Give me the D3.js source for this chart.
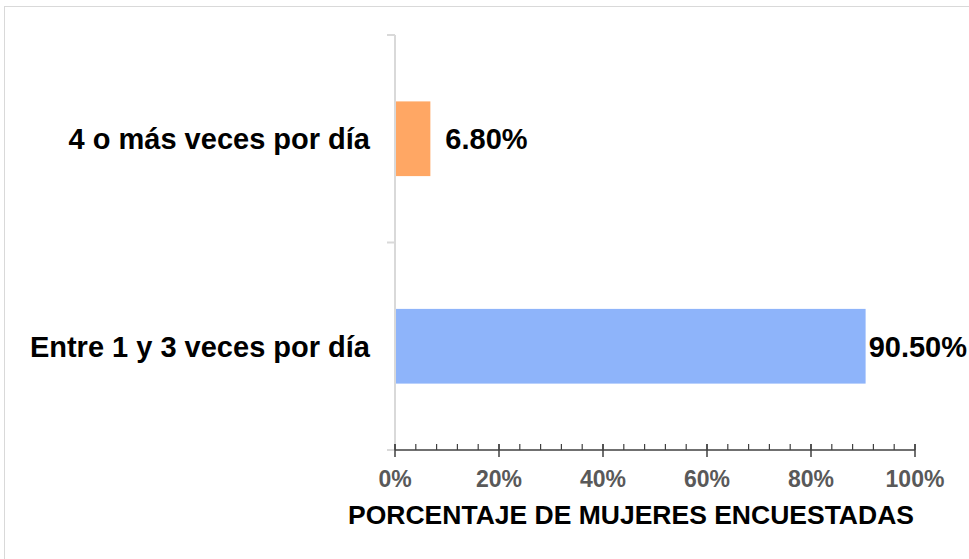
<!DOCTYPE html>
<html>
<head>
<meta charset="utf-8">
<script src="https://cdn.jsdelivr.net/npm/d3@7"></script>
<style>
  body { margin: 0; background: #fff; }
  text { font-family: Arial, "Liberation Sans", sans-serif; font-weight: bold; }
</style>
</head>
<body>
<svg id="mainSvg" width="969" height="559"></svg>
<script>
// chart values
let categories = ["4 o más veces por día", "Entre 1 y 3 veces por día"];
let values = [0.068, 0.905];
let valueLabels = ["6.80%", "90.50%"];
let barColors = ["#ffa764", "#8eb4fa"];
let tickValues = [0, 0.2, 0.4, 0.6, 0.8, 1.0];
let minorTickValues = d3.range(0, 1.0001, 0.04);
let axisTitle = "PORCENTAJE DE MUJERES ENCUESTADAS";

function drawChart() {
    let canvas = d3.select("#mainSvg");
    let width = parseInt(canvas.attr("width"));

    // frame of the chart area (runs off the right and bottom edges)
    canvas.append("rect")
        .attr("x", 4.5).attr("y", 6.5)
        .attr("width", 1000).attr("height", 1000)
        .attr("fill", "none")
        .attr("stroke", "#d9d9d9")
        .attr("stroke-width", 1);

    let plot = {left: 395, right: 915, top: 35, bottom: 450};

    let x = d3.scaleLinear().domain([0, 1]).range([plot.left, plot.right]);
    let y = d3.scaleBand().domain(categories).range([plot.top, plot.bottom]).paddingInner(0.64).paddingOuter(0.32);
    let band = d3.scaleBand().domain(categories).range([plot.top, plot.bottom]);

    // vertical category axis (light gray)
    canvas.append("line")
        .attr("x1", plot.left).attr("x2", plot.left)
        .attr("y1", plot.top).attr("y2", plot.bottom)
        .attr("stroke", "#d9d9d9").attr("stroke-width", 2);
    let bounds = categories.map(c => band(c)).concat([plot.bottom]);
    canvas.selectAll(".ytick")
        .data(bounds)
        .enter()
            .append("line")
            .attr("class", "ytick")
            .attr("x1", plot.left - 8).attr("x2", plot.left)
            .attr("y1", d => d).attr("y2", d => d)
            .attr("stroke", "#d9d9d9").attr("stroke-width", 2);

    // bars
    canvas.selectAll(".bar")
        .data(categories)
        .enter()
            .append("rect")
            .attr("class", "bar")
            .attr("x", x(0) + 1)
            .attr("y", d => y(d))
            .attr("width", (d, i) => x(values[i]) - x(0) - 1)
            .attr("height", y.bandwidth())
            .attr("fill", (d, i) => barColors[i]);

    // category labels
    canvas.selectAll(".cat")
        .data(categories)
        .enter()
            .append("text")
            .attr("class", "cat")
            .attr("x", 370)
            .attr("y", d => y(d) + y.bandwidth() / 2)
            .attr("dy", "0.36em")
            .attr("text-anchor", "end")
            .attr("font-size", 29)
            .attr("fill", "#000")
            .text(d => d);

    // value labels, pushed back inside the chart but never onto the bar
    canvas.selectAll(".val")
        .data(categories)
        .enter()
            .append("text")
            .attr("class", "val")
            .attr("y", d => y(d) + y.bandwidth() / 2)
            .attr("dy", "0.36em")
            .attr("font-size", 29)
            .attr("fill", "#000")
            .text((d, i) => valueLabels[i])
            .attr("x", function (d, i) {
                let w = this.getComputedTextLength();
                let end = x(values[i]);
                return Math.max(end + 2, Math.min(end + 15, width - 2 - w));
            });

    // x axis
    let axis = canvas.append("g").attr("transform", `translate(0,${plot.bottom})`);
    axis.append("line")
        .attr("x1", plot.left).attr("x2", plot.right)
        .attr("stroke", "#404040").attr("stroke-width", 1.5);
    axis.selectAll(".minor")
        .data(minorTickValues)
        .enter()
            .append("line")
            .attr("x1", d => x(d)).attr("x2", d => x(d))
            .attr("y1", -6).attr("y2", 0)
            .attr("stroke", "#404040").attr("stroke-width", 1.2);
    axis.selectAll(".major")
        .data(tickValues)
        .enter()
            .append("line")
            .attr("x1", d => x(d)).attr("x2", d => x(d))
            .attr("y1", -6).attr("y2", 7)
            .attr("stroke", "#404040").attr("stroke-width", 1.5);
    axis.selectAll(".tl")
        .data(tickValues)
        .enter()
            .append("text")
            .attr("x", d => x(d))
            .attr("y", 37)
            .attr("text-anchor", "middle")
            .attr("font-size", 23)
            .attr("fill", "#595959")
            .text(d => d3.format(".0%")(d));

    canvas.append("text")
        .attr("x", 631)
        .attr("y", 524)
        .attr("text-anchor", "middle")
        .attr("font-size", 26.5)
        .attr("fill", "#000")
        .text(axisTitle);
}

drawChart();
</script>
</body>
</html>
